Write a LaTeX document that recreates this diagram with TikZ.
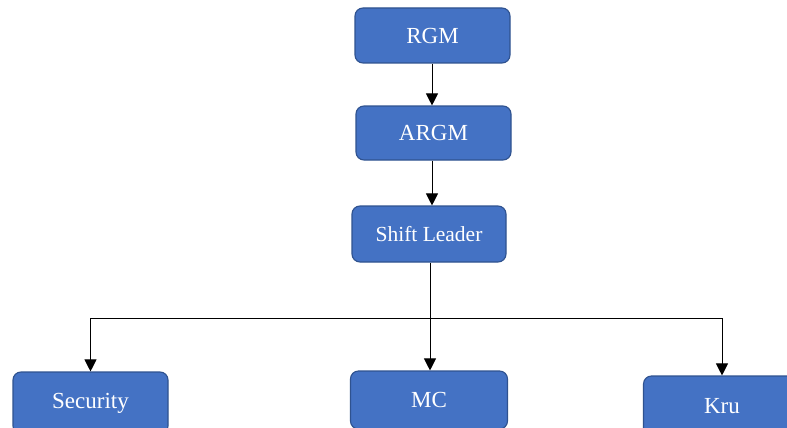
\documentclass[tikz,border=0pt]{standalone}
\usepackage{fontspec}
\setmainfont{Liberation Serif}
\usetikzlibrary{arrows.meta}
\definecolor{boxfill}{HTML}{4472C4}
\definecolor{boxline}{HTML}{2F528F}
\begin{document}
\begin{tikzpicture}[x=1pt,y=-1pt,
  orgbox/.style={draw=boxline, fill=boxfill, line width=1.1pt, rounded corners=8pt,
    minimum width=155pt, minimum height=55pt, text=white, inner sep=0pt,
    font=\fontsize{23}{27}\selectfont},
  link/.style={line width=1pt, draw=black},
  arr/.style={link, -{Triangle[length=12pt,width=12pt]}}]
\clip (0,0) rectangle (787,428);
\fill[white] (0,0) rectangle (787,428);
\node[orgbox] (rgm) at (432.5,35.5) {RGM};
\node[orgbox, minimum height=54pt] (argm) at (433.5,133) {ARGM};
\node[orgbox, minimum width=154pt, minimum height=56pt, font=\fontsize{21.5}{26}\selectfont] (shift) at (429,234) {Shift Leader};
\node[orgbox, minimum height=62pt] (sec) at (90.5,403) {Security};
\node[orgbox, minimum width=157pt, minimum height=58pt] (mc) at (429,400) {MC};
\node[orgbox, minimum width=157pt, minimum height=60pt] (kru) at (722,406) {Kru};
\coordinate (bus) at (430,318);
\draw[arr] (rgm.south -| 432,0) -- (argm.north -| 432,0);
\draw[arr] (argm.south -| 432,0) -- (shift.north -| 432,0);
\draw[arr] (shift.south -| bus) -- (mc.north -| bus);
\draw[link] (sec.north |- bus) -- (kru.north |- bus);
\draw[arr] (sec.north |- bus) -- (sec.north);
\draw[arr] (kru.north |- bus) -- (kru.north);
\end{tikzpicture}
\end{document}
